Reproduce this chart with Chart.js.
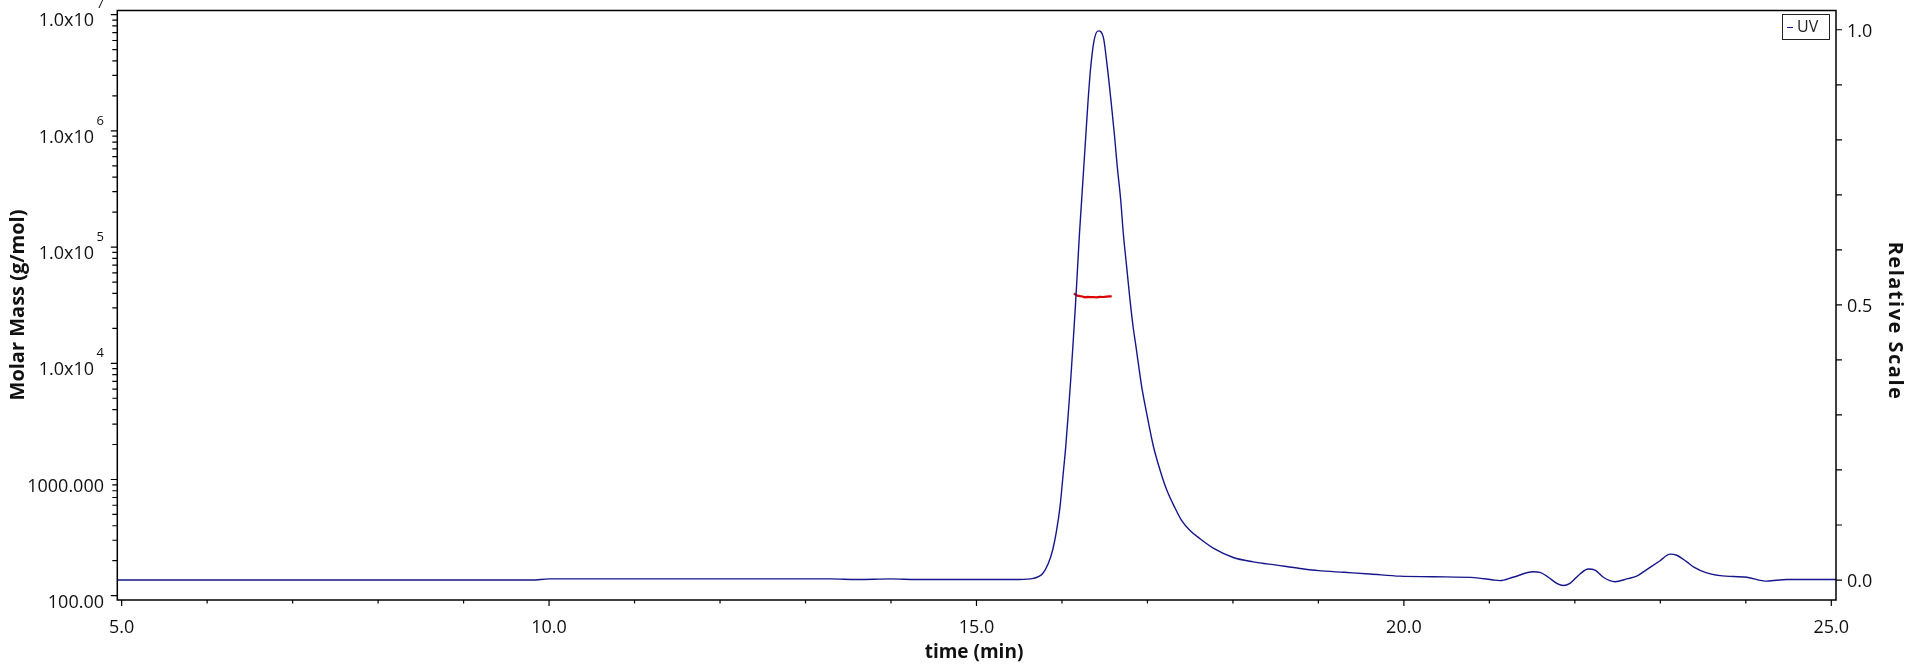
<!DOCTYPE html>
<html><head><meta charset="utf-8">
<script src="https://cdn.jsdelivr.net/npm/chart.js@4.4.1/dist/chart.umd.min.js"></script>
<style>html,body{margin:0;padding:0;background:#fff;}canvas{display:block;}</style>
</head><body>
<canvas id="c" width="1920" height="672"></canvas>
<script>
// ---- data ----
const uvTime = [4.95, 6.0, 8.0, 9.8, 10.0, 12.0, 13.3, 13.6, 14.0, 14.3, 15.0, 15.3, 15.5, 15.665, 15.775, 15.84, 15.892, 15.938, 15.977, 16.015, 16.044, 16.074, 16.102, 16.13, 16.158, 16.18, 16.205, 16.23, 16.255, 16.28, 16.305, 16.335, 16.375, 16.425, 16.483, 16.53, 16.573, 16.612, 16.647, 16.687, 16.717, 16.757, 16.796, 16.834, 16.866, 16.893, 16.933, 16.991, 17.068, 17.147, 17.225, 17.322, 17.401, 17.498, 17.615, 17.77, 18.004, 18.238, 18.512, 18.785, 19.0, 19.3, 19.6, 19.955, 20.34, 20.852, 21.046, 21.124, 21.276, 21.514, 21.592, 21.69, 21.788, 21.865, 21.943, 22.06, 22.157, 22.236, 22.333, 22.47, 22.607, 22.724, 22.841, 22.997, 23.113, 23.192, 23.31, 23.387, 23.543, 23.699, 24.012, 24.246, 24.48, 25.055];
const uvValue = [0.000, 0.000, 0.000, 0.000, 0.002, 0.002, 0.002, 0.001, 0.002, 0.001, 0.001, 0.001, 0.001, 0.003, 0.012, 0.030, 0.055, 0.091, 0.133, 0.194, 0.242, 0.303, 0.363, 0.430, 0.500, 0.560, 0.630, 0.690, 0.750, 0.810, 0.870, 0.930, 0.980, 0.998, 0.987, 0.933, 0.872, 0.812, 0.751, 0.691, 0.631, 0.569, 0.509, 0.458, 0.424, 0.394, 0.351, 0.303, 0.244, 0.200, 0.164, 0.131, 0.108, 0.090, 0.075, 0.058, 0.041, 0.033, 0.027, 0.021, 0.017, 0.014, 0.011, 0.007, 0.006, 0.004, 0.000, -0.001, 0.005, 0.015, 0.014, 0.005, -0.006, -0.010, -0.006, 0.011, 0.020, 0.018, 0.005, -0.003, 0.002, 0.007, 0.019, 0.035, 0.047, 0.045, 0.033, 0.024, 0.013, 0.008, 0.005, -0.002, 0.001, 0.001];
const mmTime = [16.141, 16.15, 16.164, 16.18, 16.211, 16.24, 16.27, 16.30, 16.33, 16.36, 16.406, 16.44, 16.48, 16.52, 16.55, 16.582];
const mmValue = [40000, 39500, 38600, 38200, 37800, 37600, 37000, 37300, 37100, 37200, 37000, 37300, 37200, 37500, 37600, 37700];

const xMajorTicks = [5, 10, 15, 20, 25];
const xMajorLabels = ['5.0', '10.0', '15.0', '20.0', '25.0'];
const xMinorTicks = [6, 7, 8, 9, 11, 12, 13, 14, 16, 17, 18, 19, 21, 22, 23, 24];
const massMajorTicks = [100, 1000, 1e4, 1e5, 1e6, 1e7];
const massMajorLabels = ['100.00', '1000.000', '1.0x10', '1.0x10', '1.0x10', '1.0x10'];
const massExponents = ['', '', '4', '5', '6', '7'];
const massMinorTicks = [200, 300, 400, 500, 600, 700, 800, 900, 2000, 3000, 4000, 5000, 6000, 7000, 8000, 9000, 2e4, 3e4, 4e4, 5e4, 6e4, 7e4, 8e4, 9e4, 2e5, 3e5, 4e5, 5e5, 6e5, 7e5, 8e5, 9e5, 2e6, 3e6, 4e6, 5e6, 6e6, 7e6, 8e6, 9e6];
const relTicks = [0, 0.1, 0.2, 0.3, 0.4, 0.5, 0.6, 0.7, 0.8, 0.9, 1.0];
const relLabelValues = [0, 0.5, 1.0];
const relLabelTexts = ['0.0', '0.5', '1.0'];

const FONT = '"Open Sans", "Noto Sans", sans-serif';

const axesPlugin = {
  id: 'axesDraw',
  afterDraw(chart) {
    const ctx = chart.ctx, a = chart.chartArea;
    const sx = chart.scales.x, sy = chart.scales.y, sr = chart.scales.y2;
    ctx.save();
    ctx.strokeStyle = '#000';
    ctx.lineWidth = 1.5;
    ctx.strokeRect(a.left, a.top, a.right - a.left, a.bottom - a.top);
    ctx.lineWidth = 1.2;
    ctx.beginPath();
    xMajorTicks.forEach(v => { const p = sx.getPixelForValue(v); ctx.moveTo(p, a.bottom); ctx.lineTo(p, a.bottom + 6); });
    xMinorTicks.forEach(v => { const p = sx.getPixelForValue(v); ctx.moveTo(p, a.bottom); ctx.lineTo(p, a.bottom + 3.5); });
    massMajorTicks.forEach(v => { const p = sy.getPixelForValue(v); ctx.moveTo(a.left - 6.5, p); ctx.lineTo(a.left, p); });
    massMinorTicks.forEach(v => { const p = sy.getPixelForValue(v); ctx.moveTo(a.left - 5, p); ctx.lineTo(a.left, p); });
    relTicks.forEach(v => { const p = sr.getPixelForValue(v); ctx.moveTo(a.right, p); ctx.lineTo(a.right + 6, p); });
    ctx.stroke();

    ctx.fillStyle = '#111';
    ctx.textBaseline = 'middle';
    ctx.font = '18px ' + FONT;
    ctx.textAlign = 'center';
    xMajorTicks.forEach((v, i) => ctx.fillText(xMajorLabels[i], sx.getPixelForValue(v), a.bottom + 28));
    massMajorTicks.forEach((v, i) => {
      const p = sy.getPixelForValue(v);
      if (massExponents[i]) {
        ctx.font = '18px ' + FONT; ctx.textAlign = 'right';
        ctx.fillText(massMajorLabels[i], 94, p + 6.5);
        ctx.font = '13px ' + FONT; ctx.textAlign = 'left';
        ctx.fillText(massExponents[i], 96.5, p - 10);
      } else {
        ctx.font = '18px ' + FONT; ctx.textAlign = 'right';
        ctx.fillText(massMajorLabels[i], 104, p + 7);
      }
    });
    ctx.font = '18px ' + FONT; ctx.textAlign = 'left';
    relLabelValues.forEach((v, i) => ctx.fillText(relLabelTexts[i], a.right + 11, sr.getPixelForValue(v) + 2));

    // axis titles
    ctx.textAlign = 'center';
    ctx.font = 'bold 19px ' + FONT;
    ctx.fillText('time (min)', 974, 653);
    ctx.font = 'bold 20px ' + FONT;
    ctx.save(); ctx.translate(18, 305); ctx.rotate(-Math.PI / 2); ctx.fillText('Molar Mass (g/mol)', 0, 0); ctx.restore();
    ctx.save(); ctx.translate(1895, 321); ctx.rotate(Math.PI / 2);
    ctx.letterSpacing = '1.5px';
    ctx.fillText('Relative Scale', 0, 0); ctx.restore();

    // legend
    ctx.lineWidth = 1;
    ctx.strokeStyle = '#222';
    ctx.fillStyle = '#fff';
    ctx.fillRect(1782, 14.5, 47, 25);
    ctx.strokeRect(1782.5, 14.5, 47, 25);
    ctx.strokeStyle = chart.data.datasets[0].borderColor;
    ctx.beginPath(); ctx.moveTo(1787, 27.5); ctx.lineTo(1793, 27.5); ctx.stroke();
    ctx.fillStyle = '#222';
    ctx.font = '16px ' + FONT; ctx.textAlign = 'left';
    ctx.fillText(chart.data.datasets[0].label, 1797, 27.5);
    ctx.restore();
  }
};

new Chart(document.getElementById('c'), {
  type: 'line',
  data: {
    datasets: [
      { label: 'UV', yAxisID: 'y2', data: uvTime.map((t, i) => ({ x: t, y: uvValue[i] })), borderColor: 'rgb(22,22,140)', borderWidth: 1.4, pointRadius: 0, cubicInterpolationMode: 'monotone', fill: false },
      { label: 'Molar Mass', yAxisID: 'y', data: mmTime.map((t, i) => ({ x: t, y: mmValue[i] })), borderColor: 'rgb(220,0,0)', borderWidth: 2.2, pointRadius: 0, tension: 0, fill: false }
    ]
  },
  options: {
    responsive: false, animation: false, devicePixelRatio: 1,
    layout: { padding: { top: 10.5, left: 0, right: 0, bottom: 0 } },
    plugins: { legend: { display: false }, tooltip: { enabled: false } },
    scales: {
      x: { type: 'linear', position: 'bottom', min: 4.949, max: 25.055, ticks: { display: false }, grid: { display: false }, border: { display: false }, afterFit(s) { s.height = 72; } },
      y: { type: 'logarithmic', position: 'left', min: 91.8, max: 1.087e7, ticks: { display: false }, grid: { display: false }, border: { display: false }, afterFit(s) { s.width = 117.3; } },
      y2: { type: 'linear', position: 'right', min: -0.0363, max: 1.035, ticks: { display: false }, grid: { display: false }, border: { display: false }, afterFit(s) { s.width = 84; } }
    }
  },
  plugins: [axesPlugin]
});
</script>
</body></html>
